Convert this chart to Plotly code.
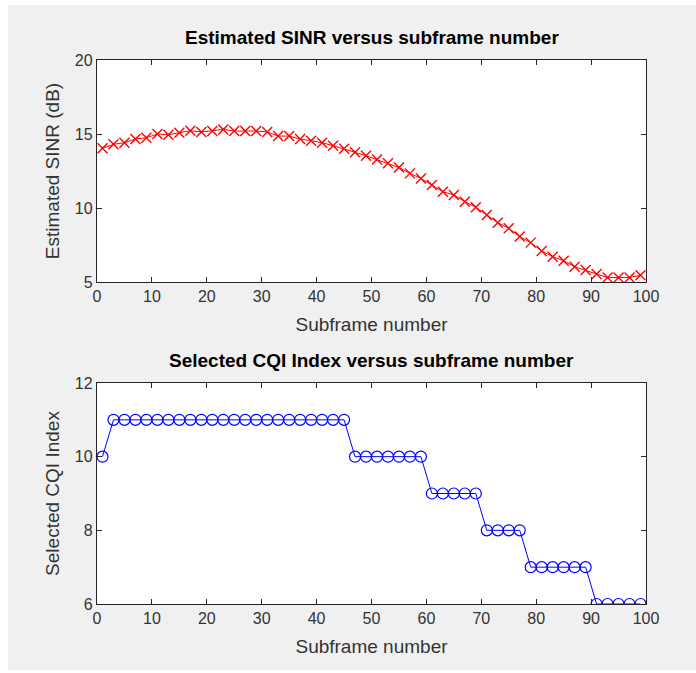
import plotly.graph_objects as go
from plotly.subplots import make_subplots

subframes = list(range(1, 100, 2))

sinr_db = [14.03, 14.30, 14.41, 14.66, 14.75, 15.00, 14.95, 15.09, 15.22, 15.14,
           15.20, 15.31, 15.20, 15.20, 15.20, 15.14, 14.86, 14.86, 14.66, 14.55,
           14.41, 14.21, 14.01, 13.76, 13.53, 13.27, 13.02, 12.73, 12.34, 12.00,
           11.55, 11.10, 10.88, 10.43, 10.05, 9.53, 9.01, 8.63, 8.07, 7.66,
           7.10, 6.71, 6.44, 6.03, 5.81, 5.54, 5.30, 5.30, 5.30, 5.45]

cqi_index = [10] + [11] * 22 + [10] * 7 + [9] * 5 + [8] * 4 + [7] * 6 + [6] * 5

x_ticks = list(range(0, 101, 10))
sinr_ticks = [5, 10, 15, 20]
cqi_ticks = [6, 8, 10, 12]

titles = ["Estimated SINR versus subframe number",
          "Selected CQI Index versus subframe number"]
x_label = "Subframe number"
y_labels = ["Estimated SINR (dB)", "Selected CQI Index"]

FONT = "Liberation Sans, Arial, sans-serif"
AX = "#262626"
TXT = "#333333"
BG = "#f0f0f0"

fig = make_subplots(rows=2, cols=1)

fig.add_trace(go.Scatter(
    x=subframes, y=sinr_db, mode="lines+markers",
    line=dict(color="#ff0000", width=1),
    marker=dict(symbol="x-thin-open", size=10, line=dict(color="#ff0000", width=1.4)),
    showlegend=False), row=1, col=1)

fig.add_trace(go.Scatter(
    x=subframes, y=cqi_index, mode="lines+markers",
    line=dict(color="#0000ff", width=1),
    marker=dict(symbol="circle-open", size=11, color="#0000ff", line=dict(color="#0000ff", width=1.2)),
    showlegend=False), row=2, col=1)

top_dom = [(604 - 282) / 544, 1.0]
bot_dom = [0.0, (604 - 383) / 544]

common_x = dict(range=[0, 100], tickvals=x_ticks, ticks="inside", ticklen=5,
                tickcolor=AX, showline=True, linecolor=AX, linewidth=1.3, mirror="ticks",
                showgrid=False, zeroline=False, tickfont=dict(size=16, color=TXT, family=FONT),
                title=dict(text=x_label, font=dict(size=19, color=TXT, family=FONT), standoff=13))
common_y = dict(ticks="inside", ticklen=5, tickcolor=AX, showline=True, linecolor=AX,
                linewidth=1.3, mirror="ticks", showgrid=False, zeroline=False,
                tickfont=dict(size=16, color=TXT, family=FONT))

fig.update_xaxes(**common_x)
fig.update_layout(
    xaxis=dict(domain=[0, 1], anchor="y"),
    xaxis2=dict(domain=[0, 1], anchor="y2"),
    yaxis=dict(domain=top_dom, range=[5, 20], tickvals=sinr_ticks,
               title=dict(text=y_labels[0], font=dict(size=19, color=TXT, family=FONT), standoff=10),
               **common_y),
    yaxis2=dict(domain=bot_dom, range=[6, 12], tickvals=cqi_ticks,
                title=dict(text=y_labels[1], font=dict(size=19, color=TXT, family=FONT), standoff=10),
                **common_y),
)

fig.add_annotation(text="<b>" + titles[0] + "</b>", xref="paper", yref="paper",
                   x=0.5, y=1 + (60 - 38) / 544, xanchor="center", yanchor="middle",
                   showarrow=False, font=dict(size=19, color="#000000", family=FONT))
fig.add_annotation(text="<b>" + titles[1] + "</b>", xref="paper", yref="paper",
                   x=0.5, y=(604 - 360) / 544, xanchor="center", yanchor="middle",
                   showarrow=False, font=dict(size=19, color="#000000", family=FONT))

# thin white frame around the grey figure area
fig.add_shape(type="rect", xref="paper", yref="paper", x0=-0.2, x1=1.2,
              y0=1 + (60 - 5) / 544, y1=1.2, fillcolor="white", line_width=0, layer="above")
fig.add_shape(type="rect", xref="paper", yref="paper", x0=-0.2, x1=(8 - 97) / 549,
              y0=-0.2, y1=1.2, fillcolor="white", line_width=0, layer="above")
fig.add_shape(type="rect", xref="paper", yref="paper", x0=-0.2, x1=1.2,
              y0=-0.2, y1=-(670 - 604) / 544, fillcolor="white", line_width=0, layer="above")

fig.update_layout(
    width=696, height=673,
    margin=dict(l=97, r=50, t=60, b=69),
    paper_bgcolor=BG, plot_bgcolor="white",
    font=dict(family=FONT, color=TXT),
)

fig.write_html("out.html", config={"displayModeBar": False},
               post_script="document.body.style.margin='0';")
